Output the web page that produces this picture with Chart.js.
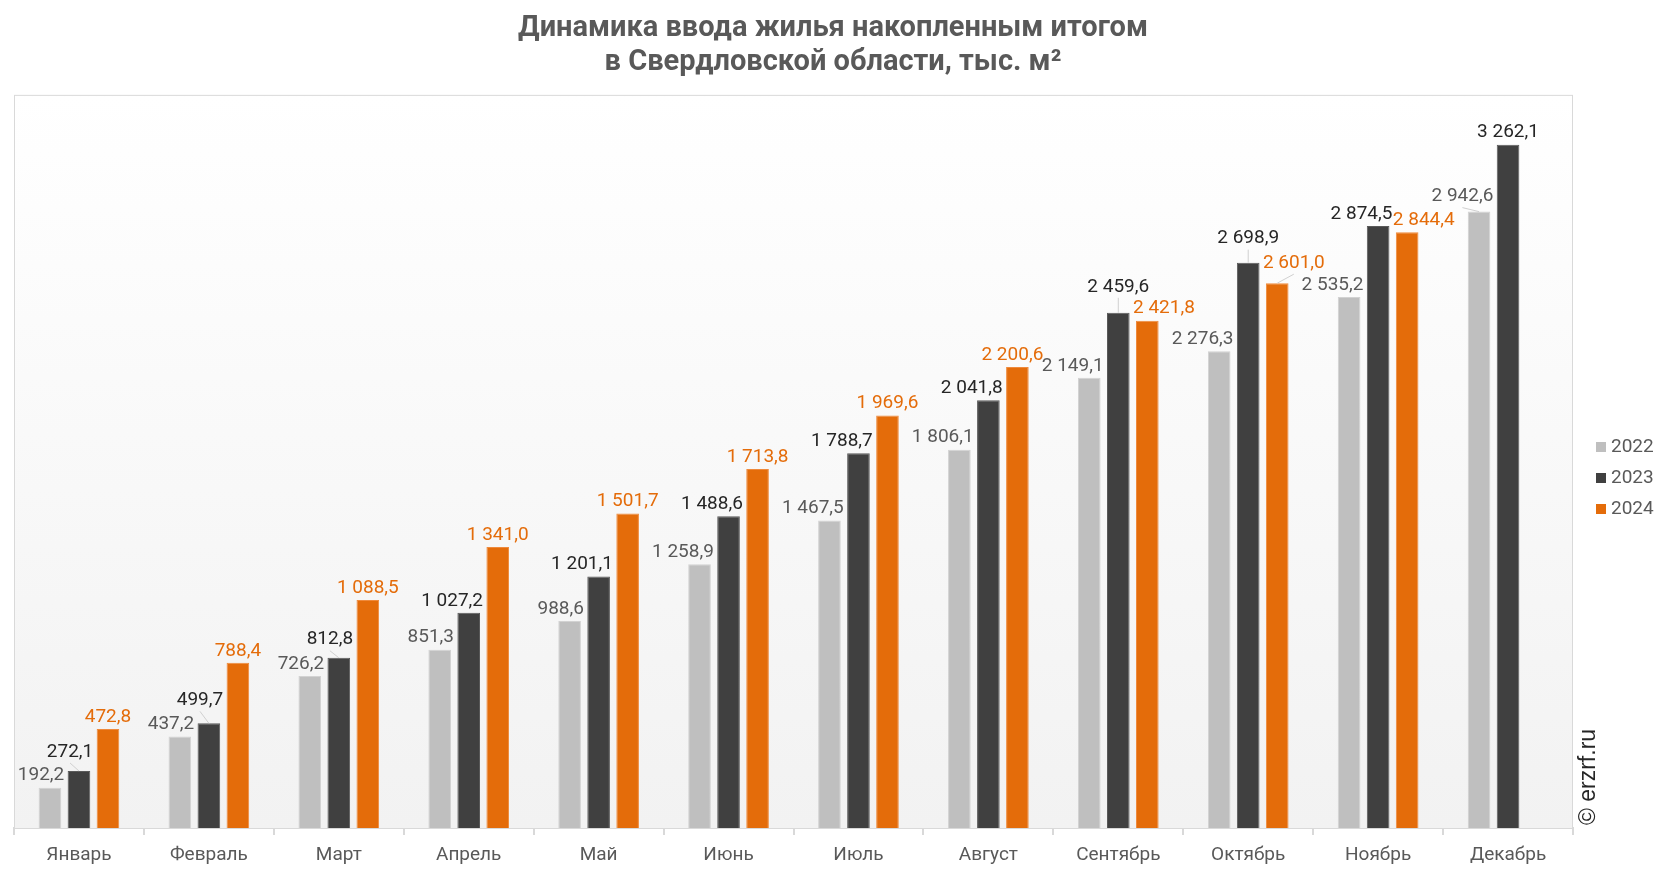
<!DOCTYPE html>
<html>
<head>
<meta charset="utf-8">
<script src="https://cdn.jsdelivr.net/npm/chart.js@4"></script>
<style>
  html, body { margin: 0; padding: 0; background: #ffffff; }
  #wrap { width: 1666px; height: 872px; position: relative; }
</style>
</head>
<body>
<div id="wrap"><canvas id="c" width="1666" height="872"></canvas></div>
<script>
const categories = ['Январь','Февраль','Март','Апрель','Май','Июнь','Июль','Август','Сентябрь','Октябрь','Ноябрь','Декабрь'];
const seriesNames = ['2022', '2023', '2024'];
const values2022 = [192.2, 437.2, 726.2, 851.3, 988.6, 1258.9, 1467.5, 1806.1, 2149.1, 2276.3, 2535.2, 2942.6];
const values2023 = [272.1, 499.7, 812.8, 1027.2, 1201.1, 1488.6, 1788.7, 2041.8, 2459.6, 2698.9, 2874.5, 3262.1];
const values2024 = [472.8, 788.4, 1088.5, 1341.0, 1501.7, 1713.8, 1969.6, 2200.6, 2421.8, 2601.0, 2844.4, null];
const titleLines = ['Динамика ввода жилья накопленным итогом', 'в Свердловской области, тыс. м²'];
const watermark = '© erzrf.ru';

const COLORS = ['#bfbfbf', '#404040', '#e46c0a'];
const BORDERS = ['#d2d2d2', '#5a5a5a', '#ef8a3c'];
const LABEL_COLORS = ['#595959', '#262626', '#e46c0a'];
const DEFAULT_ALIGN = ['right', 'right', 'center'];
const DEFAULT_LIFT = 12;
// label placement tweaks (dataset:index)
const LABEL_TWEAKS = {
  '0:11': {lift: 15},
  '1:0': {lift: 19}, '1:1': {lift: 23}, '1:2': {lift: 18},
  '1:8': {align: 'center', lift: 26}, '1:9': {align: 'center', lift: 24}, '1:11': {align: 'center'},
  '2:7': {dx: -5},
  '2:8': {align: 'left'}, '2:9': {align: 'left', lift: 20}, '2:10': {align: 'left'}
};

function fmt(v) {
  const p = v.toFixed(1).split('.');
  return p[0].replace(/\B(?=(\d{3})+(?!\d))/g, ' ') + ',' + p[1];
}

const bgPlugin = {
  id: 'bgPlugin',
  beforeDatasetsDraw(chart) {
    const {ctx, chartArea: a} = chart;
    ctx.save();
    const g = ctx.createLinearGradient(0, a.top, 0, a.bottom);
    g.addColorStop(0, '#ffffff');
    g.addColorStop(1, '#f2f2f2');
    ctx.fillStyle = g;
    ctx.fillRect(a.left, a.top, a.right - a.left, a.bottom - a.top);
    ctx.strokeStyle = '#d9d9d9';
    ctx.lineWidth = 1;
    ctx.strokeRect(a.left + 0.5, a.top + 0.5, a.right - a.left - 1, a.bottom - a.top);
    ctx.restore();
  }
};

const labelPlugin = {
  id: 'labelPlugin',
  afterDatasetsDraw(chart) {
    const ctx = chart.ctx;
    ctx.save();
    ctx.font = '19px Roboto';
    ctx.textBaseline = 'middle';
    chart.data.datasets.forEach((ds, di) => {
      const meta = chart.getDatasetMeta(di);
      meta.data.forEach((bar, i) => {
        const v = ds.data[i];
        if (v === null || v === undefined) return;
        const tw = LABEL_TWEAKS[di + ':' + i] || {};
        const align = tw.align || DEFAULT_ALIGN[di];
        const lift = tw.lift || DEFAULT_LIFT;
        const dx = tw.dx || 0;
        const txt = fmt(v);
        const w = ctx.measureText(txt).width;
        const half = bar.width / 2;
        let cx;
        if (align === 'right') cx = bar.x + half + 3 - w / 2;
        else if (align === 'left') cx = bar.x - half - 3 + w / 2;
        else cx = bar.x;
        cx += dx;
        const cy = bar.y - lift;
        if (lift > 14) {
          ctx.strokeStyle = '#d0d0d0';
          ctx.lineWidth = 1;
          ctx.beginPath();
          ctx.moveTo(cx, cy + 11);
          ctx.lineTo(bar.x, bar.y);
          ctx.stroke();
        }
        ctx.fillStyle = LABEL_COLORS[di];
        ctx.textAlign = 'center';
        ctx.fillText(txt, cx, cy);
      });
    });
    ctx.restore();
  },
  afterDraw(chart) {
    const ctx = chart.ctx;
    ctx.save();
    // legend
    ctx.font = '19px Roboto';
    ctx.textBaseline = 'middle';
    ctx.textAlign = 'left';
    seriesNames.forEach((n, k) => {
      const y = 447 + k * 31;
      ctx.fillStyle = COLORS[k];
      ctx.fillRect(1596, y - 5, 10, 10);
      ctx.fillStyle = '#595959';
      ctx.fillText(n, 1611, y);
    });
    // watermark
    ctx.translate(1589, 777);
    ctx.rotate(-Math.PI / 2);
    ctx.font = '23px "Liberation Sans"';
    ctx.fillStyle = '#262626';
    ctx.textAlign = 'center';
    ctx.textBaseline = 'middle';
    ctx.fillText(watermark, 0, 0);
    ctx.restore();
  }
};

const datasets = [values2022, values2023, values2024].map((vals, k) => ({
  label: seriesNames[k],
  data: vals,
  backgroundColor: COLORS[k],
  borderColor: BORDERS[k],
  borderWidth: 1,
  categoryPercentage: 0.67,
  barPercentage: 0.78
}));

new Chart(document.getElementById('c'), {
  type: 'bar',
  data: { labels: categories, datasets },
  plugins: [bgPlugin, labelPlugin],
  options: {
    responsive: false,
    animation: false,
    layout: { padding: 0 },
    plugins: {
      legend: { display: false },
      tooltip: { enabled: false },
      title: {
        display: true,
        text: titleLines,
        color: '#595959',
        font: { family: 'Roboto', size: 29, weight: 'bold', lineHeight: 1.17 },
        padding: { top: 12, bottom: 15 }
      }
    },
    scales: {
      x: {
        offset: true,
        grid: { display: true, drawOnChartArea: false, drawTicks: true, tickLength: 7, color: '#d9d9d9', lineWidth: 2, offset: true },
        border: { display: true, color: '#d9d9d9', width: 2 },
        ticks: { color: '#595959', font: { family: 'Roboto', size: 19 }, padding: 9, maxRotation: 0, autoSkip: false },
        afterFit(s) { s.height = 44; }
      },
      y: {
        position: 'left',
        min: 0, max: 3500,
        display: true,
        grid: { display: false },
        border: { display: false },
        ticks: { display: false },
        afterFit(s) { s.width = 14; }
      },
      y2: {
        position: 'right',
        min: 0, max: 3500,
        display: true,
        grid: { display: false },
        border: { display: false },
        ticks: { display: false },
        afterFit(s) { s.width = 93; }
      }
    }
  }
});
</script>
</body>
</html>
